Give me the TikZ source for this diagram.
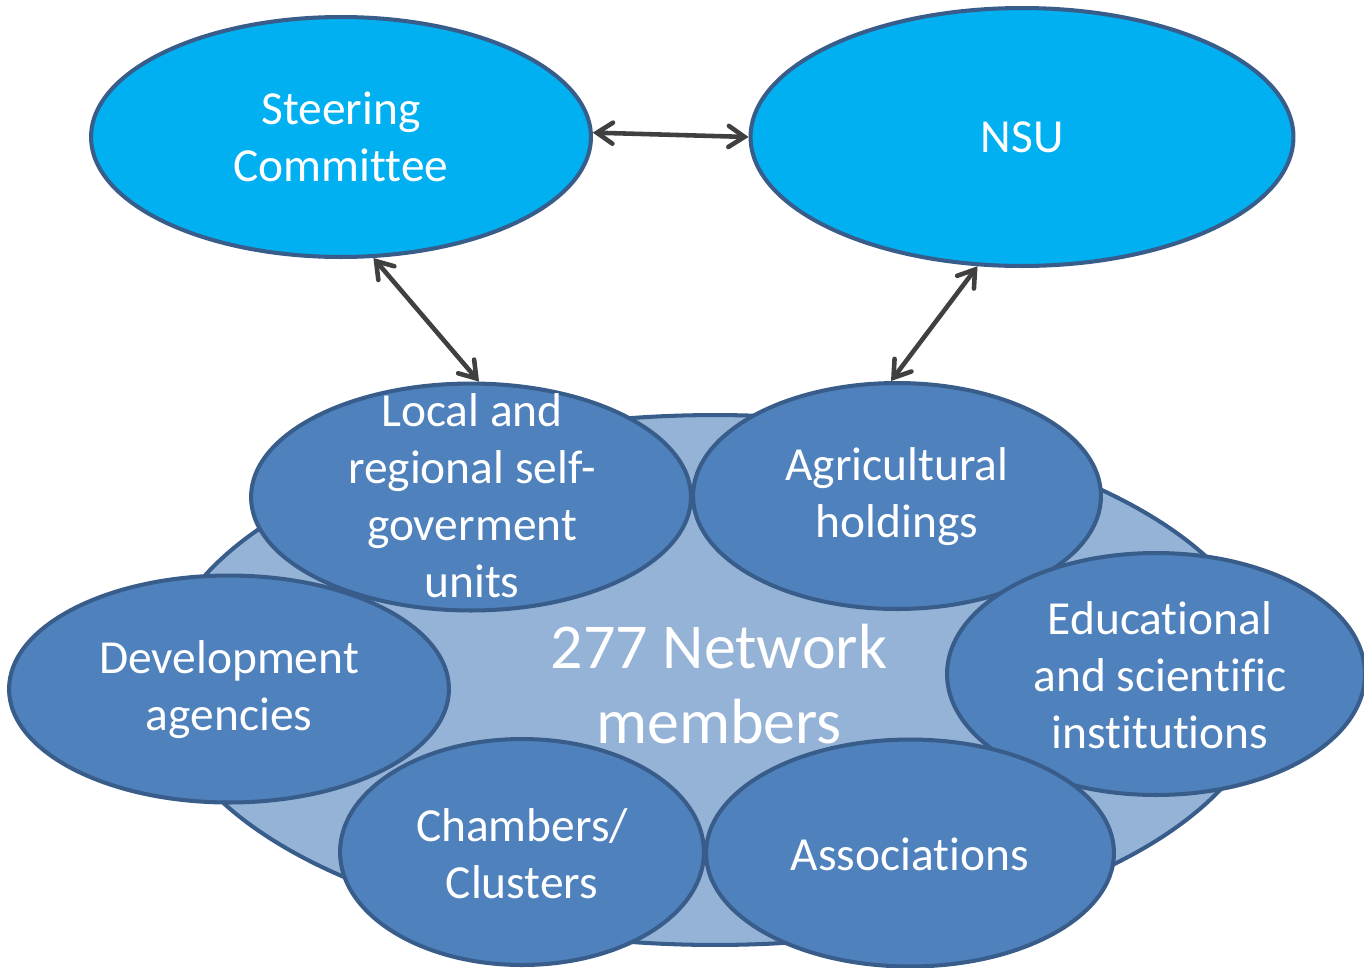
\documentclass[tikz,border=0pt]{standalone}
\usepackage{fontspec}
\setmainfont{Carlito}[Ligatures=NoCommon]
\usetikzlibrary{shapes.geometric,arrows.meta}
\definecolor{cyanfill}{HTML}{00B0F0}
\definecolor{midfill}{HTML}{4F81BD}
\definecolor{bigfill}{HTML}{95B3D7}
\definecolor{edge}{HTML}{385D8A}
\definecolor{arr}{HTML}{404040}
\tikzset{
  oval/.style={ellipse, draw=edge, line width=2.3pt, inner sep=0pt},
  lbl/.style={text=white, align=center, font=\fontsize{27}{32.5}\selectfont},
  biglbl/.style={text=white, align=center, font=\fontsize{36.4}{42.5}\selectfont},
  mybarb/.tip={Straight Barb[length=9pt,width=12pt,line width=2.6pt,line cap=round]},
  link/.style={draw=arr, line width=2.6pt, line cap=round, mybarb-mybarb}
}
\begin{document}
\begin{tikzpicture}[x=0.02cm,y=-0.02cm]
\useasboundingbox (0,0) rectangle (1364,967);
% big ellipse
\node[oval, fill=bigfill, minimum width=22.2cm, minimum height=10.6cm] (net) at (715,680) {};
% top ellipses
\node[oval, fill=cyanfill, minimum width=10cm, minimum height=4.8cm] (sc) at (341,137) {};
\node[oval, fill=cyanfill, minimum width=10.86cm, minimum height=5.16cm] (nsu) at (1022,137) {};
% member ellipses
\node[oval, fill=midfill, minimum width=8.8cm, minimum height=4.54cm] (loc) at (471,497) {};
\node[oval, fill=midfill, minimum width=8.16cm, minimum height=4.52cm] (agr) at (897,496) {};
\node[oval, fill=midfill, minimum width=8.8cm, minimum height=4.54cm] (dev) at (229,689) {};
\node[oval, fill=midfill, minimum width=8.36cm, minimum height=4.84cm] (edu) at (1156,674) {};
\node[oval, fill=midfill, minimum width=7.28cm, minimum height=4.52cm] (cha) at (522,852) {};
\node[oval, fill=midfill, minimum width=8.16cm, minimum height=4.54cm] (ass) at (910,853) {};
% labels
\node[lbl] (sct) at (341,137) {Steering\\Committee};
\node[lbl] (nsut) at (1022,137) {NSU};
\node[biglbl] (nett) at (719,684) {277 Network\\members};
\node[lbl] (loct) at (472,496) {Local and\\regional self-\\goverment\\units};
\node[lbl] (agrt) at (897,497) {Agricultural\\holdings};
\node[lbl] (devt) at (229,690) {Development\\agencies};
\node[lbl] (edut) at (1160,675) {Educational\\and scientific\\institutions};
\node[lbl] (chat) at (522,854) {Chambers/\\Clusters};
\node[lbl] (asst) at (910,854) {Associations};
% connectors
\draw[link] (sc.1) -- (nsu.180);
\draw[link] (sc.285.5) -- (loc.86.5);
\draw[link] (nsu.251.3) -- (agr.93);
\end{tikzpicture}
\end{document}
